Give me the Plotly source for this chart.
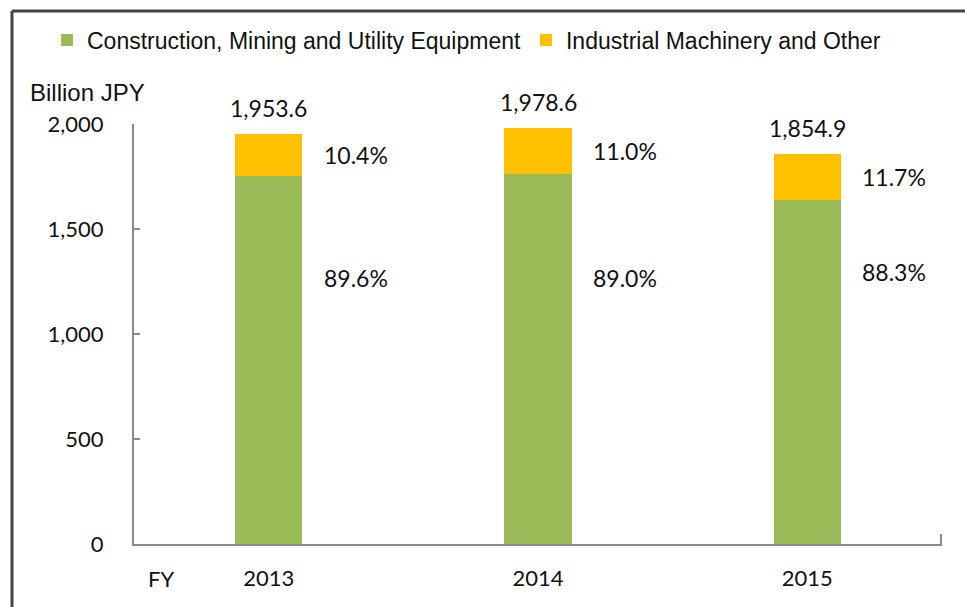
import plotly.graph_objects as go

categories = ["2013", "2014", "2015"]
totals = [1953.6, 1978.6, 1854.9]
construction_vals = [1750.4, 1761.0, 1637.9]
industrial_vals = [203.2, 217.6, 217.0]
construction_pct = ["89.6%", "89.0%", "88.3%"]
industrial_pct = ["10.4%", "11.0%", "11.7%"]
total_labels = ["1,953.6", "1,978.6", "1,854.9"]
construction_label_y = [1265, 1265, 1295]

GREEN = "#9BBB59"
YELLOW = "#FFC000"
NUMFONT = "Lato"
TXT = "#111111"

fig = go.Figure()
fig.add_trace(go.Bar(x=categories, y=construction_vals, name="Construction, Mining and Utility Equipment",
                     marker=dict(color=GREEN, line=dict(width=0)), width=0.25))
fig.add_trace(go.Bar(x=categories, y=industrial_vals, name="Industrial Machinery and Other",
                     marker=dict(color=YELLOW, line=dict(width=0)), width=0.25))

ann = []
for i, c in enumerate(categories):
    ann.append(dict(x=i, y=totals[i], text=total_labels[i], showarrow=False, yanchor="bottom",
                    yshift=10, font=dict(family=NUMFONT, size=23, color=TXT)))
    ann.append(dict(x=i, y=construction_vals[i] + industrial_vals[i] / 2, text=industrial_pct[i],
                    showarrow=False, xanchor="center", xshift=87,
                    font=dict(family=NUMFONT, size=23, color=TXT)))
    ann.append(dict(x=i, y=construction_label_y[i], text=construction_pct[i],
                    showarrow=False, xanchor="center", xshift=87,
                    font=dict(family=NUMFONT, size=23, color=TXT)))

ann.append(dict(xref="paper", yref="paper", x=(87 - 134) / 808, y=1 + (124 - 92) / 420,
                text="Billion JPY", showarrow=False, xanchor="center", yanchor="middle",
                font=dict(family="Liberation Sans", size=24, color=TXT)))
ann.append(dict(xref="paper", yref="paper", x=(161 - 134) / 808, y=-(578 - 544) / 420,
                text="FY", showarrow=False, xanchor="center", yanchor="middle",
                font=dict(family=NUMFONT, size=22, color=TXT)))

shapes = [
    dict(type="line", xref="paper", yref="paper", x0=(12 - 134) / 808, x1=1.1,
         y0=1 + (124 - 11) / 420, y1=1 + (124 - 11) / 420, line=dict(color="#444444", width=3)),
    dict(type="line", xref="paper", yref="paper", x0=(12 - 134) / 808, x1=(12 - 134) / 808,
         y0=1 + (124 - 11) / 420, y1=-0.3, line=dict(color="#444444", width=3)),
    dict(type="line", xref="paper", yref="paper", x0=(941 - 134) / 808, x1=(941 - 134) / 808,
         y0=0, y1=10 / 420, line=dict(color="#8a8a8a", width=2)),
]

fig.update_layout(
    barmode="stack",
    width=965, height=607,
    margin=dict(l=134, r=23, t=124, b=63, autoexpand=False),
    paper_bgcolor="white", plot_bgcolor="white",
    showlegend=True,
    legend=dict(orientation="h", x=(47 - 134) / 808, xanchor="left", y=1 + (124 - 40) / 420,
                yanchor="middle", font=dict(family="Liberation Sans", size=23, color=TXT),
                traceorder="normal", bgcolor="rgba(0,0,0,0)"),
    annotations=ann,
    shapes=shapes,
)
fig.update_yaxes(range=[0, 2000], tickvals=[0, 500, 1000, 1500, 2000],
                 ticktext=["0", "500", "1,000", "1,500", "2,000"],
                 showgrid=False, zeroline=False, showline=True, linecolor="#8a8a8a", linewidth=2,
                 ticks="inside", ticklen=6, tickcolor="#8a8a8a", tickwidth=2,
                 ticklabelstandoff=24, automargin=False,
                 tickfont=dict(family=NUMFONT, size=22, color=TXT))
fig.update_xaxes(type="category", range=[-0.5, 2.5], showgrid=False, showline=True,
                 linecolor="#8a8a8a", linewidth=2,
                 ticks="", ticklabelstandoff=14, automargin=False,
                 tickfont=dict(family=NUMFONT, size=22, color=TXT))

fig.write_html("out.html", config={"displayModeBar": False},
               post_script="document.body.style.margin='0';document.body.style.overflow='hidden';")
